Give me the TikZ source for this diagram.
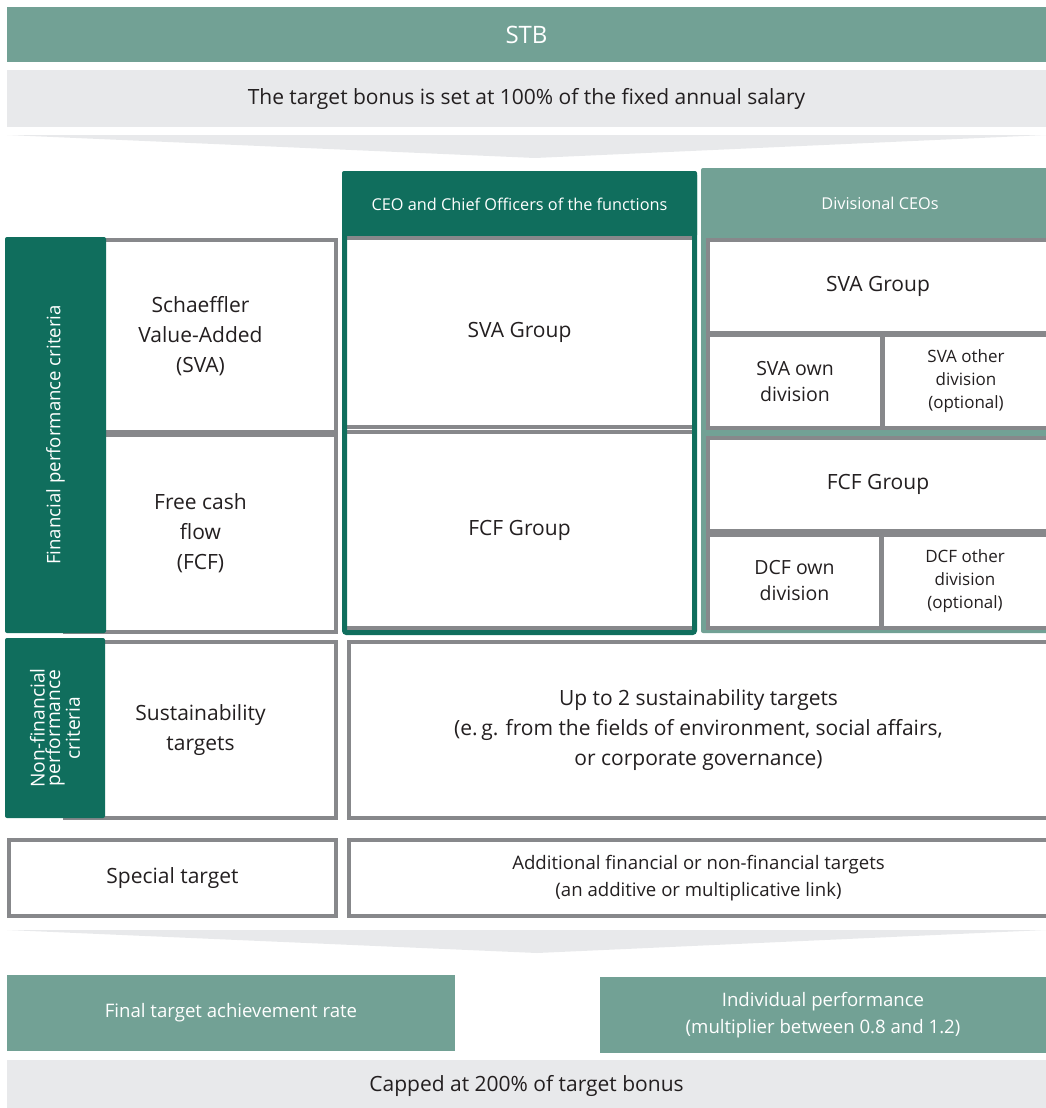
\documentclass[tikz,border=0pt]{standalone}
\usepackage{fontspec}
\setmainfont{Open Sans}

\definecolor{stbgreen}{HTML}{72A195}
\definecolor{darkgreen}{HTML}{106E5D}
\definecolor{bargray}{HTML}{E8E9EB}
\definecolor{cellgray}{HTML}{87888B}
\definecolor{textgray}{HTML}{231F20}

\tikzset{
  greenbar/.style={fill=stbgreen, text=white, inner sep=0pt, align=center},
  darkbar/.style={fill=darkgreen, text=white, inner sep=0pt, align=center, rounded corners=2pt},
  graybar/.style={fill=bargray, text=textgray, inner sep=0pt, align=center},
  cell/.style={draw=cellgray, line width=4pt, fill=white, text=textgray, inner sep=0pt, align=center},
  dims/.style 2 args={minimum width=#1pt, minimum height=#2pt},
  bigtext/.style={font=\fontsize{21}{30}\selectfont},
  midtext/.style={font=\fontsize{19.5}{26}\selectfont},
  labeltext/.style={font=\fontsize{18.6}{27}\selectfont},
  smalltext/.style={font=\fontsize{17}{23}\selectfont},
  headtext/.style={font=\fontsize{16.3}{18}\selectfont},
}

\begin{document}
\begin{tikzpicture}[x=1pt,y=-1pt]

        \useasboundingbox (0,0) rectangle (1046,1108);
        \clip (0,0) rectangle (1046,1108);

        %top bars
        \node[greenbar, dims={1039}{55}, font=\fontsize{24}{28}\selectfont] (stb) at (526.5,34.5) {STB};
        \node[graybar, dims={1039}{57}, bigtext] (fixed) at (526.5,98.5) {The target bonus is set at 100\% of the fixed annual salary};
        \fill[bargray] (7,135) -- (1046,135) -- (535,158) -- cycle;

        %column heads
        \node[darkbar, dims={355}{66}, headtext] (ceo) at (519.5,204) {CEO and Chief Officers of the functions};
        \fill[stbgreen, rounded corners=2pt] (701,168) rectangle (1056,633);
        \node[greenbar, dims={355}{70}, headtext] (div) at (880,203) {Divisional CEOs};

        %financial criteria
        \node[cell, dims={271}{192}, bigtext] (critsva) at (200.5,336) {Schaeffler\\Value-Added\\(SVA)};
        \node[cell, dims={271}{197}, bigtext] (critfcf) at (200.5,533.5) {Free cash\\flow\\(FCF)};
        \node[darkbar, rotate=90, dims={396}{101}, labeltext] (fin) at (55.5,435) {Financial performance criteria};

        %CEO column
        \node[cell, dims={349}{189}, bigtext] (ceosva) at (519.5,332.5) {SVA Group};
        \node[cell, dims={349}{196}, bigtext] (ceofcf) at (519.5,530) {FCF Group};
        \draw[darkgreen, line width=5pt, rounded corners=2pt] (344.5,173.5) rectangle (694.5,632.5);

        %divisional column
        \node[cell, dims={340}{93}, bigtext] (divsva) at (878,286.5) {SVA Group};
        \node[cell, dims={174}{93}, midtext] (svaown) at (795,381.5) {SVA own\\division};
        \node[cell, dims={166}{93}, smalltext] (svaoth) at (966,381.5) {SVA other\\division\\(optional)};
        \node[cell, dims={340}{93}, bigtext] (divfcf) at (878,484.5) {FCF Group};
        \node[cell, dims={173}{93}, midtext] (dcfown) at (794.5,581) {DCF own\\division};
        \node[cell, dims={167}{93}, smalltext] (dcfoth) at (965,581) {DCF other\\division\\(optional)};

        %non-financial criteria
        \node[cell, dims={271}{176}, bigtext] (critsust) at (200.5,730) {Sustainability\\targets};
        \node[darkbar, rotate=90, dims={180}{100}, font=\fontsize{19.2}{15.5}\selectfont] (nonfin) at (55,728) {Non-financial\\performance\\criteria};
        \node[cell, dims={699}{176}, bigtext] (sust) at (698.5,730) {Up to 2 sustainability targets\\(e.\,g. from the fields of environment, social affairs,\\or corporate governance)};

        %special target
        \node[cell, dims={327}{76}, bigtext] (critspec) at (172.5,878) {Special target};
        \node[cell, dims={699}{76}, labeltext] (spec) at (698.5,878) {Additional financial or non-financial targets\\(an additive or multiplicative link)};

        %result
        \fill[bargray] (7,930) -- (1046,930) -- (537,953) -- cycle;
        \node[greenbar, dims={448}{76}, labeltext] (rate) at (231,1013) {Final target achievement rate};
        \node[greenbar, dims={446}{76}, labeltext] (indiv) at (823,1015) {Individual performance\\(multiplier between 0.8 and 1.2)};
        \node[graybar, dims={1039}{53}, bigtext] (cap) at (526.5,1086) {Capped at 200\% of target bonus};

\end{tikzpicture}
\end{document}
